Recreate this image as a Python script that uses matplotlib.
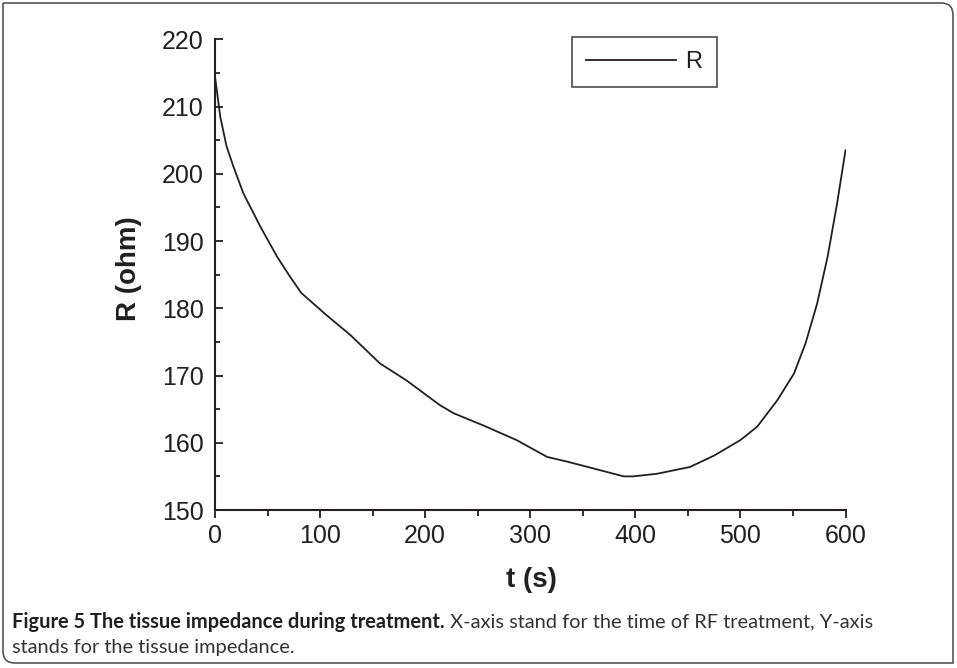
'''Impedancia del tejido durante el tratamiento'''

import matplotlib
matplotlib.use('Agg')
import matplotlib.pyplot as plt
from matplotlib.path import Path
from matplotlib.patches import PathPatch
from matplotlib.ticker import MultipleLocator

# Datos
t_s = [0, 5, 11, 17.5, 27, 43, 59, 71, 82, 106, 129, 147, 157, 182, 214, 227,
       255, 287, 316, 335, 367, 389, 398, 421, 452, 475, 500, 516, 535, 551,
       562, 573, 583, 592, 600]
r_ohm = [214.5, 208.5, 204.1, 201.1, 197.1, 192.2, 187.7, 184.8, 182.3, 179.0,
         176.0, 173.3, 171.8, 169.3, 165.6, 164.4, 162.6, 160.4, 157.9, 157.2,
         155.9, 155.0, 155.0, 155.4, 156.4, 158.1, 160.4, 162.4, 166.3, 170.3,
         174.8, 180.7, 187.7, 195.6, 203.5]
series_label = 'R'
x_label = 't (s)'
y_label = 'R (ohm)'
caption_bold = 'Figure 5 The tissue impedance during treatment.'
caption_rest = ' X-axis stand for the time of RF treatment, Y-axis'
caption_line2 = 'stands for the tissue impedance.'

INK = '#231f20'
plt.rcParams['font.family'] = ['Liberation Sans', 'DejaVu Sans']

W, H = 957, 668
fig = plt.figure(figsize=(W / 100, H / 100), dpi=100)
ax = fig.add_axes([215 / W, 1 - 510 / H, (845.5 - 215) / W, (510 - 39.4) / H])

ax.plot(t_s, r_ohm, color=INK, lw=1.3, label=series_label)

ax.set_xlim(0, 600)
ax.set_ylim(150, 220)
ax.xaxis.set_major_locator(MultipleLocator(100))
ax.xaxis.set_minor_locator(MultipleLocator(50))
ax.yaxis.set_major_locator(MultipleLocator(10))
ax.yaxis.set_minor_locator(MultipleLocator(5))

for side in ['top', 'right']:
    ax.spines[side].set_visible(False)
for side in ['left', 'bottom']:
    ax.spines[side].set_linewidth(1.5)
    ax.spines[side].set_color(INK)
    ax.spines[side].set_zorder(5)

ax.tick_params(axis='x', which='major', direction='out', length=6, width=1.3,
               labelsize=18, pad=4, colors=INK)
ax.tick_params(axis='x', which='minor', direction='out', length=4, width=1.3, colors=INK)
ax.tick_params(axis='y', which='major', direction='in', length=5.5, width=1.3,
               labelsize=18, pad=8, colors=INK)
ax.tick_params(axis='y', which='minor', direction='in', length=3.5, width=1.3, colors=INK)

fig.text(531 / W, 1 - 580 / H, x_label, fontsize=20, fontweight='bold',
         color=INK, ha='center', va='center')
fig.text(129 / W, 1 - 269 / H, y_label, fontsize=20, fontweight='bold',
         color=INK, ha='center', va='center', rotation=90)

leg = ax.legend(loc='upper left', bbox_to_anchor=(572 / W, 1 - 37 / H),
                bbox_transform=fig.transFigure, borderaxespad=0, fontsize=17,
                fancybox=False, frameon=True, handlelength=3.8,
                handletextpad=0.4, borderpad=0.6)
leg.get_frame().set_edgecolor(INK)
leg.get_frame().set_linewidth(1.2)
for txt in leg.get_texts():
    txt.set_color(INK)

# Pie de figura
cap_font = ['Lato', 'DejaVu Sans']
bold = fig.text(12 / W, 1 - 622 / H, caption_bold, fontsize=14.4,
                fontweight='bold', family=cap_font, color=INK, va='center')
ax.annotate(caption_rest, xy=(1, 0.5), xycoords=bold, va='center', ha='left',
            fontsize=14.4, family=cap_font, color='#333333', annotation_clip=False)
fig.text(12 / W, 1 - 648 / H, caption_line2, fontsize=14.4, family=cap_font,
         color='#333333', va='center')

# Marco con esquinas redondeadas (arriba derecha y abajo izquierda)
x0, x1, y0, y1, r = 3 / W, 953 / W, 1 - 663 / H, 1 - 3 / H, 12
rx, ry = r / W, r / H
verts = [(x0, y1), (x1 - rx, y1), (x1, y1), (x1, y1 - ry), (x1, y0),
         (x0 + rx, y0), (x0, y0), (x0, y0 + ry), (x0, y1)]
codes = [Path.MOVETO, Path.LINETO, Path.CURVE3, Path.CURVE3, Path.LINETO,
         Path.LINETO, Path.CURVE3, Path.CURVE3, Path.LINETO]
fig.patches.append(PathPatch(Path(verts, codes), transform=fig.transFigure,
                             fill=False, edgecolor='#555555', lw=1.2))

fig.savefig('out.png', dpi=100)
